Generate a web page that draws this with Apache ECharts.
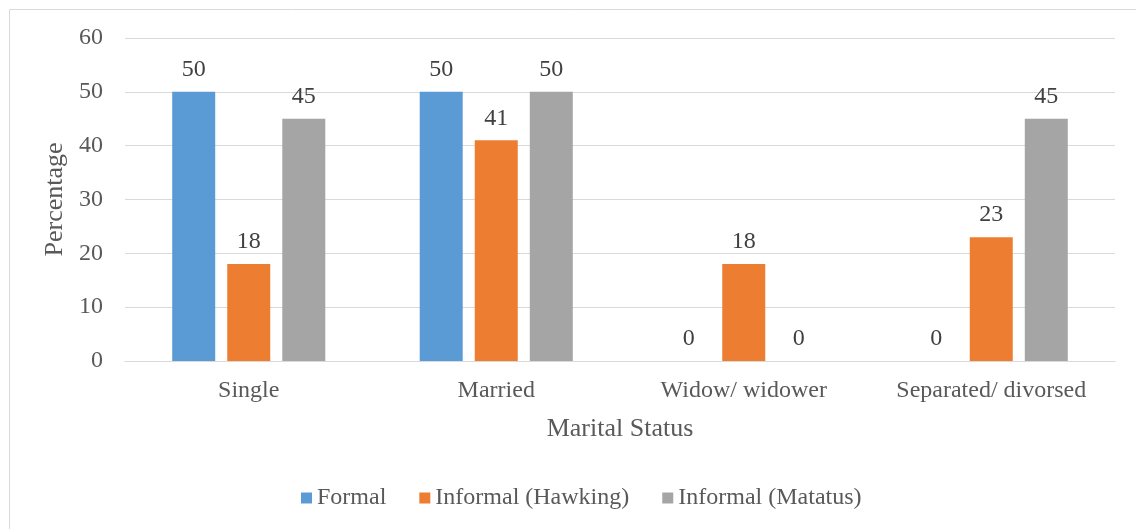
<!DOCTYPE html>
<html>
<head>
<meta charset="utf-8">
<script src="https://cdn.jsdelivr.net/npm/echarts@6/dist/echarts.min.js"></script>
<style>
  html, body { margin: 0; padding: 0; background: #fff; }
  #chart { width: 1136px; height: 529px; }
</style>
</head>
<body>
<div id="chart"></div>
<script>
// Marital status categories and the share (%) in each employment group
const categories = ['Single', 'Married', 'Widow/ widower', 'Separated/ divorsed'];
const formal = [50, 50, 0, 0];
const informalHawking = [18, 41, 18, 23];
const informalMatatus = [45, 50, 0, 45];
const seriesNames = ['Formal', 'Informal (Hawking)', 'Informal (Matatus)'];
const seriesColors = ['#5B9BD5', '#ED7D31', '#A5A5A5'];

const FONT = '"Liberation Serif", "Times New Roman", serif';
const textColor = '#595959';

const chart = echarts.init(document.getElementById('chart'), null, { renderer: 'canvas' });

const makeSeries = (name, data, color) => ({
  name: name,
  type: 'bar',
  data: data,
  barWidth: 43,
  barGap: '28%',
  itemStyle: { color: color },
  label: {
    show: true,
    position: 'top',
    distance: 10,
    color: '#404040',
    fontFamily: FONT,
    fontSize: 24
  }
});

chart.setOption({
  animation: false,
  textStyle: { fontFamily: FONT },
  graphic: [{
    type: 'rect',
    shape: { x: 9.5, y: 9.5, width: 1200, height: 600 },
    style: { fill: 'none', stroke: '#D9D9D9', lineWidth: 1 },
    silent: true
  }],
  grid: { left: 125, right: 21, top: 38, bottom: 168, containLabel: false },
  legend: {
    top: 481,
    left: 296,
    itemWidth: 11,
    itemHeight: 11,
    itemGap: 33,
    icon: 'rect',
    textStyle: { fontFamily: FONT, fontSize: 24, color: textColor },
    data: seriesNames
  },
  xAxis: {
    type: 'category',
    data: categories,
    name: 'Marital Status',
    nameLocation: 'middle',
    nameGap: 55,
    nameTextStyle: { fontFamily: FONT, fontSize: 26, color: textColor },
    axisLine: { show: true, lineStyle: { color: '#D9D9D9', width: 1 } },
    axisTick: { show: false },
    axisLabel: { fontFamily: FONT, fontSize: 24, color: textColor, margin: 18 }
  },
  yAxis: {
    type: 'value',
    min: 0,
    max: 60,
    interval: 10,
    name: 'Percentage',
    nameLocation: 'middle',
    nameGap: 42,
    nameTextStyle: { fontFamily: FONT, fontSize: 26, color: textColor },
    axisLine: { show: false },
    axisTick: { show: false },
    axisLabel: { fontFamily: FONT, fontSize: 24, color: textColor, margin: 22 },
    splitLine: { lineStyle: { color: '#D9D9D9', width: 1 } }
  },
  series: [
    makeSeries(seriesNames[0], formal, seriesColors[0]),
    makeSeries(seriesNames[1], informalHawking, seriesColors[1]),
    makeSeries(seriesNames[2], informalMatatus, seriesColors[2])
  ]
});
</script>
</body>
</html>
